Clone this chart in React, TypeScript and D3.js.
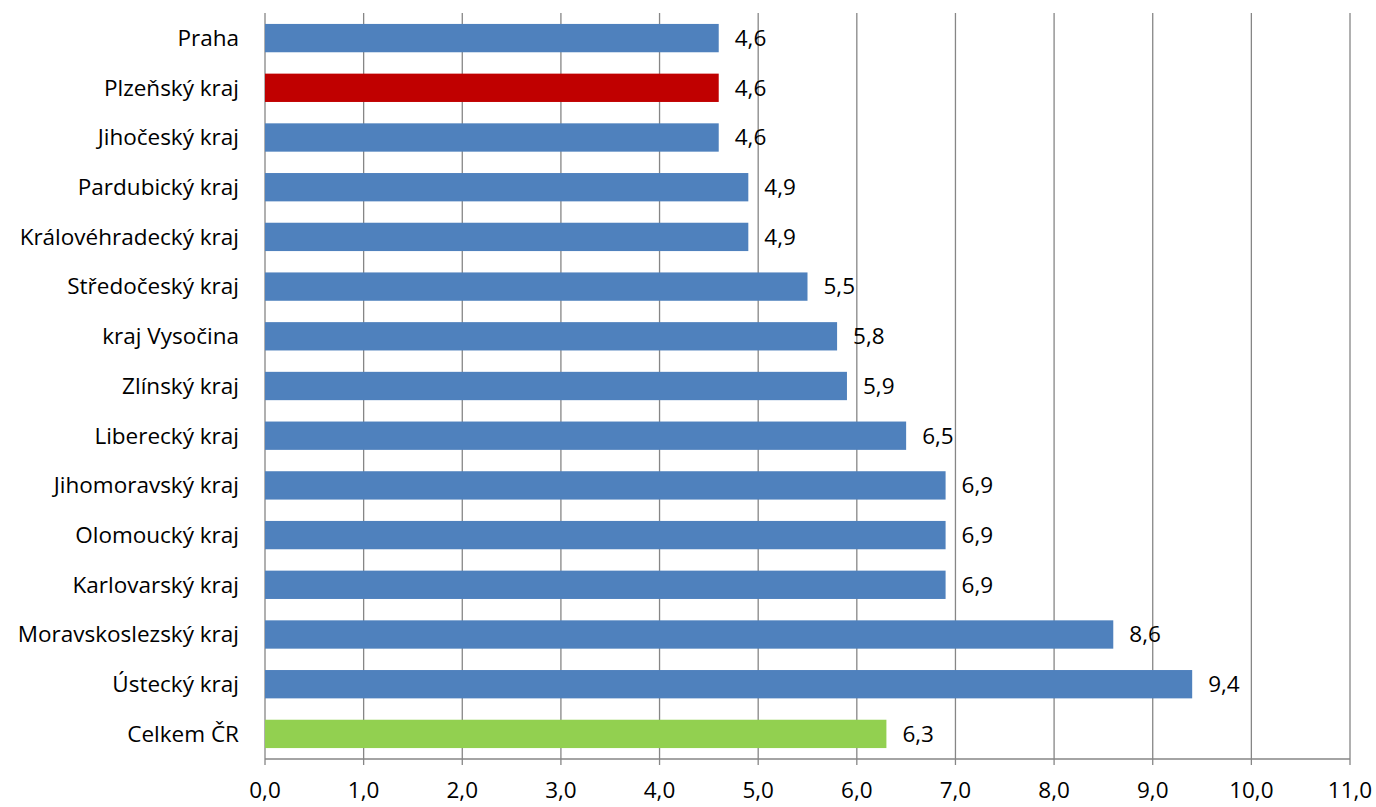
import * as d3 from 'd3'

const categories = [
  'Praha', 'Plzeňský kraj', 'Jihočeský kraj', 'Pardubický kraj', 'Královéhradecký kraj',
  'Středočeský kraj', 'kraj Vysočina', 'Zlínský kraj', 'Liberecký kraj', 'Jihomoravský kraj',
  'Olomoucký kraj', 'Karlovarský kraj', 'Moravskoslezský kraj', 'Ústecký kraj', 'Celkem ČR',
]
const values = [4.6, 4.6, 4.6, 4.9, 4.9, 5.5, 5.8, 5.9, 6.5, 6.9, 6.9, 6.9, 8.6, 9.4, 6.3]
const ticks = d3.range(0, 12)

const colorFor = (c: string) =>
  c === 'Plzeňský kraj' ? '#C00000' : c === 'Celkem ČR' ? '#92D050' : '#4F81BD'

export default function App() {
  const width = 1376, height = 807
  const left = 265, right = 1350, top = 13, bottom = 759
  const x = d3.scaleLinear([0, 11], [left, right])
  const y = d3.scaleBand(categories, [top, bottom]).paddingInner(0.43).paddingOuter(0.22)
  const font = '"Open Sans", sans-serif'
  const fs = 22.5
  return (
    <svg width={width} height={height} style={{ position: 'absolute', left: 0, top: 0 }} fontFamily={font}>
      <rect width={width} height={height} fill="white" />
      {ticks.map(t => (
        <g key={t}>
          <line x1={x(t)} x2={x(t)} y1={top} y2={bottom + 6} stroke="#868686" strokeWidth={1.3} />
          <text x={x(t)} y={bottom + 39} textAnchor="middle" fontSize={fs} fill="#000">
            {t.toFixed(1).replace('.', ',')}
          </text>
        </g>
      ))}
      <line x1={left} x2={right} y1={bottom} y2={bottom} stroke="#868686" strokeWidth={1.3} />
      {categories.map((c, i) => {
        const yc = y(c)! + y.bandwidth() / 2
        return (
          <g key={c}>
            <rect x={x(0)} y={y(c)} width={x(values[i]) - x(0)} height={y.bandwidth()} fill={colorFor(c)} />
            <text x={left - 26} y={yc} dy="0.35em" textAnchor="end" fontSize={fs}>{c}</text>
            <text x={x(values[i]) + 16} y={yc} dy="0.35em" fontSize={fs}>
              {values[i].toFixed(1).replace('.', ',')}
            </text>
          </g>
        )
      })}
    </svg>
  )
}
